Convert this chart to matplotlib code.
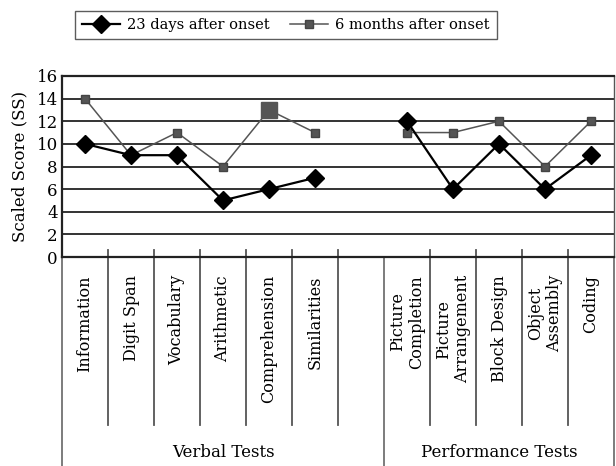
import numpy as np
import matplotlib
matplotlib.use("Agg")
import matplotlib.pyplot as plt
import matplotlib.transforms as mtransforms

## Data
tests = ["Information", "Digit Span", "Vocabulary", "Arithmetic", "Comprehension",
         "Similarities", "", "Picture\nCompletion", "Picture\nArrangement",
         "Block Design", "Object\nAssembly", "Coding"]
days23 = [10, 9, 9, 5, 6, 7, np.nan, 12, 6, 10, 6, 9]
months6 = [14, 9, 11, 8, 13, 11, np.nan, 11, 11, 12, 8, 12]
groups = ["Verbal Tests", "Performance Tests"]
group_edges = [(-0.5, 6.5), (6.5, 11.5)]
yticks = [0, 2, 4, 6, 8, 10, 12, 14, 16]

plt.rcParams['font.family'] = ['DejaVu Serif']

fig = plt.figure(figsize=(6.16, 4.66), dpi=100)
ax = fig.add_axes([62/616, 1-257/466, (614-62)/616, (257-76)/466])

x = np.arange(len(tests))

## grid lines
for y in yticks[1:-1]:
    ax.axhline(y, color='#333333', lw=1.4, zorder=1)

ax.plot(x, months6, color='#555555', lw=1.1, marker='s', ms=6,
        mfc='#555555', mec='#444444', label='6 months after onset', zorder=3)
ax.plot(x, days23, color='black', lw=1.6, marker='D', ms=9,
        mfc='black', mec='black', label='23 days after onset', zorder=4)
## the larger square at Comprehension
ic = tests.index("Comprehension")
ax.plot([x[ic]], [months6[ic]], marker='s', ms=11, color='#555555', ls='none', zorder=3)

ax.set_xlim(-0.5, len(tests) - 0.5)
ax.set_ylim(0, 16)
ax.set_yticks(yticks)
ax.tick_params(axis='y', length=0, labelsize=12, pad=3)
ax.set_xticks(x)
ax.set_xticklabels(tests, rotation=90, va='top', ha='center', fontsize=11.5)
plt.setp(ax.get_xticklabels(), multialignment='center')
ax.tick_params(axis='x', length=0, pad=13)
ax.set_ylabel("Scaled Score (SS)", fontsize=12, labelpad=6)

for s in ['top', 'bottom', 'left']:
    ax.spines[s].set_linewidth(1.6)
    ax.spines[s].set_color('#222222')
ax.spines['right'].set_linewidth(1.0)
ax.spines['right'].set_color('#555555')

## divider lines below the axis
trans = mtransforms.blended_transform_factory(ax.transData, ax.transAxes)
long_edges = [-0.5, 6.5, len(tests) - 0.5]
for b in np.arange(-0.5, len(tests), 1.0):
    if b in long_edges:
        ax.plot([b, b], [0, -1.16], transform=trans, color='#666666', lw=1.2, clip_on=False)
    else:
        ax.plot([b, b], [0.04, -0.928], transform=trans, color='#555555', lw=1.3, clip_on=False)

## group labels
for name, (a, b) in zip(groups, group_edges):
    ax.text((a + b) / 2, -1.08, name, transform=trans, ha='center', va='center', fontsize=12)

h, l = ax.get_legend_handles_labels()
leg = fig.legend(h[::-1], l[::-1], loc='center', bbox_to_anchor=(286/616, 1-25/466),
                 ncol=2, fontsize=10.5, frameon=True, fancybox=False, edgecolor='#333333',
                 handlelength=2.6, columnspacing=1.4, handletextpad=0.5, borderpad=0.5)
leg.get_frame().set_linewidth(1.0)

fig.savefig("out.png", dpi=100)
